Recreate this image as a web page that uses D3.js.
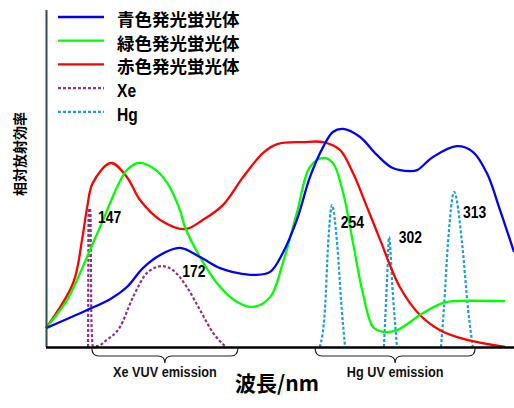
<!DOCTYPE html>
<html><head><meta charset="utf-8">
<script src="https://cdn.jsdelivr.net/npm/d3@7"></script>
<style>
html,body{margin:0;padding:0;background:#fff;}
svg{display:block;}
</style></head>
<body>
<script>
// relative position along wavelength axis (schematic, 0-100) and relative efficiency (0-100)
const blueSeries = [[0,5.6],[8.8,11.0],[13.7,14.2],[17.3,17.8],[20.7,23.4],[24.4,27.3],[28.6,29.4],[32.9,26.7],[37.2,23.4],[40.8,22.0],[44.7,21.4],[47.9,22.3],[50.6,27.9],[53.6,37.7],[56.4,50.4],[59.2,59.3],[61.3,63.8],[63.5,64.7],[67.1,62.3],[70.7,57.0],[74.1,53.1],[77.8,52.2],[79.3,52.5],[82.7,56.4],[87.8,59.6],[91.2,57.9],[94.2,51.6],[97.0,40.7],[100,28.2]];
const greenSeries = [[0,5.6],[4.5,13.9],[7.3,22.0],[9.4,28.8],[12.2,37.7],[15.2,47.5],[17.3,52.5],[19.7,54.6],[22.9,53.1],[25.9,48.7],[28.6,40.7],[29.7,35.6],[32.9,26.7],[36.5,19.0],[40.8,13.4],[44.2,11.9],[47.9,14.8],[50.6,24.9],[53.6,39.8],[56.4,53.4],[59.2,56.1],[61.3,54.6],[63.5,45.7],[65.6,30.9],[67.7,16.0],[69.9,5.9],[72.0,4.5],[75.0,5.0],[77.8,7.4],[79.9,9.5],[84.8,13.1],[87.0,13.6],[98.1,13.6]];
const redSeries = [[0,5.6],[5.8,19.0],[7.7,31.8],[8.8,41.5],[10.0,48.7],[13.9,54.6],[17.3,50.4],[20.1,43.6],[24.4,37.7],[29.7,35.0],[33.5,37.7],[37.8,42.1],[42.1,50.4],[46.4,57.6],[49.4,60.2],[54.9,60.8],[59.2,60.8],[62.8,58.5],[65.6,51.6],[68.6,41.5],[71.4,31.8],[75.6,17.8],[79.9,9.5],[84.2,5.0],[90.0,2.1],[98.1,0]];
const xeSeries = [[9.0,0],[9.1,39.2],[9.3,41.2],[9.5,40.1],[9.7,8.0],[10.0,0.3],[10.9,0.3],[13.0,2.1],[15.8,5.9],[18.6,14.8],[21.6,22.0],[24.8,24.0],[27.1,22.8],[30.1,17.8],[32.9,11.0],[35.7,4.2],[38.2,0.3]];
const hg254 = [[58.5,0],[59.6,11.0],[60.3,30.9],[61.1,42.1],[62.2,30.9],[63.2,11.0],[63.9,0]];
const hg302 = [[72.2,0],[72.9,20.8],[73.3,32.6],[74.1,16.0],[75.0,0]];
const hg313 = [[84.4,0],[85.0,11.0],[85.9,30.9],[87.2,46.0],[88.9,30.9],[90.2,11.0],[91.2,0]];
const peakLabels = ["147","172","254","302","313"];
const peakLabelPos = [[11.1,36.8],[29.1,20.8],[63.0,35.3],[75.4,30.9],[89.1,38.3]];
const legendNames = ["青色発光蛍光体","緑色発光蛍光体","赤色発光蛍光体","Xe","Hg"];
const braceNames = ["Xe VUV emission","Hg UV emission"];
const braceRanges = [[9.8,41.0],[57.5,91.7]];
const xLabel = "波長/nm";
const yLabel = "相対放射効率";

const W=514,H=408;
const colors = ["#0000ff","#00ff00","#ff0000","#8e3388","#1c9ddb"];
const svg = d3.select("body").append("svg").attr("width",W).attr("height",H);
const x = d3.scaleLinear().domain([0,100]).range([46,514]);
const y = d3.scaleLinear().domain([0,100]).range([347,10]);
const lineSharp = d3.line().x(d=>x(d[0])).y(d=>y(d[1])).curve(d3.curveMonotoneX);
const lineSmooth = d3.line().x(d=>x(d[0])).y(d=>y(d[1])).curve(d3.curveCatmullRom.alpha(0.5));

const latinFont = "'Liberation Sans','Arial',sans-serif";
const cjkFont = "'Noto Sans CJK JP','Noto Sans CJK SC',sans-serif";
const NARROW = 0.82;

// dashed emission lines
svg.append("path").attr("d",lineSharp(xeSeries)).attr("fill","none").attr("stroke",colors[3]).attr("stroke-width",2.2).attr("stroke-dasharray","3,2");
[hg254,hg302,hg313].forEach(s=>{
  svg.append("path").attr("d",lineSharp(s)).attr("fill","none").attr("stroke",colors[4]).attr("stroke-width",2.2).attr("stroke-dasharray","3,2");
});
// phosphor curves
[[redSeries,2],[greenSeries,1],[blueSeries,0]].forEach(([s,i])=>{
  svg.append("path").attr("d",lineSmooth(s)).attr("fill","none").attr("stroke",colors[i]).attr("stroke-width",2.3);
});

// axes
svg.append("line").attr("x1",x(0)+0.5).attr("x2",x(0)+0.5).attr("y1",y(100)).attr("y2",y(0)).attr("stroke","#2f4f4f").attr("stroke-width",2);
svg.append("line").attr("x1",x(0)).attr("x2",x(100)).attr("y1",y(0)+0.5).attr("y2",y(0)+0.5).attr("stroke","#000").attr("stroke-width",2.5);

function narrowText(tx,ty,size,anchor,txt,fill){
  return svg.append("text").attr("transform",`translate(${tx},${ty}) scale(${NARROW},1)`)
    .attr("text-anchor",anchor).attr("font-family",latinFont).attr("font-weight","bold")
    .attr("font-size",size).attr("fill",fill||"#000").text(txt);
}

// peak labels
peakLabels.forEach((t,i)=>{
  narrowText(x(peakLabelPos[i][0]),y(peakLabelPos[i][1]),17,"start",t);
});

// braces
braceRanges.forEach((r,i)=>{
  const x0=x(r[0]), x1=x(r[1]), xm=(x0+x1)/2, yt=y(0)+1, yb=yt+8, yp=yt+15;
  const p = `M${x0},${yt} Q${x0},${yb} ${x0+7},${yb} L${xm-7},${yb} Q${xm},${yb} ${xm},${yp} Q${xm},${yb} ${xm+7},${yb} L${x1-7},${yb} Q${x1},${yb} ${x1},${yt}`;
  svg.append("path").attr("d",p).attr("fill","none").attr("stroke","#222").attr("stroke-width",1.2);
  narrowText(xm,377,15.5,"middle",braceNames[i],"#111");
});

// legend
legendNames.forEach((n,i)=>{
  const ly = 17 + i*23.7;
  svg.append("line").attr("x1",58).attr("x2",104).attr("y1",ly).attr("y2",ly)
    .attr("stroke",colors[i]).attr("stroke-width",i<3?2.3:2.2).attr("stroke-dasharray",i<3?null:"3,2");
  if(i<3){
    svg.append("text").attr("x",117).attr("y",ly+9)
      .attr("font-family",cjkFont).attr("font-weight","bold").attr("font-size",17.5).attr("fill","#000").text(n);
  } else {
    narrowText(117,ly+9,19,"start",n);
  }
});

// axis titles
svg.append("text").attr("x",277).attr("y",391).attr("text-anchor","middle")
  .attr("font-family",cjkFont).attr("font-weight","bold").attr("font-size",21).attr("fill","#000").text(xLabel);
svg.append("text").attr("transform","translate(25,154) rotate(-90)").attr("text-anchor","middle")
  .attr("font-family",cjkFont).attr("font-weight","bold").attr("font-size",14).attr("fill","#000").text(yLabel);
</script>
</body></html>
